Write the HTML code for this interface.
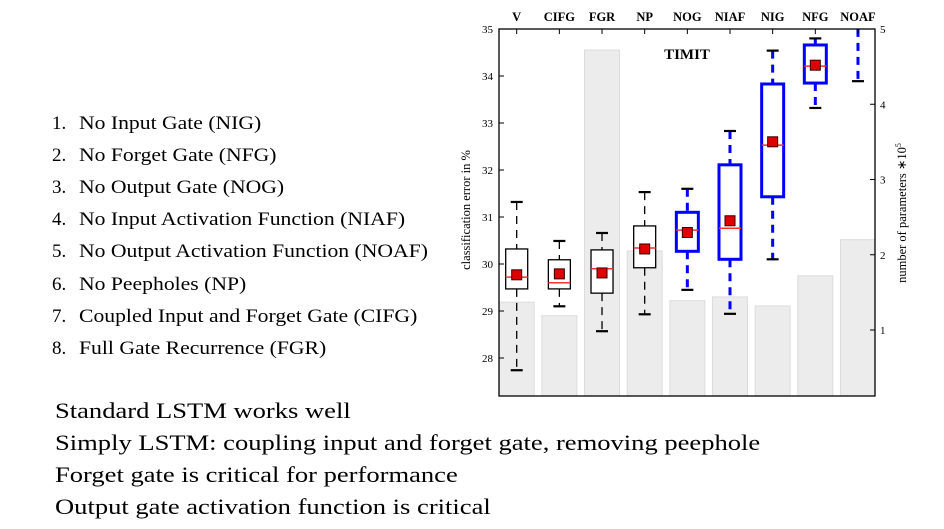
<!DOCTYPE html>
<html><head><meta charset="utf-8"><style>
html,body{margin:0;padding:0;background:#fff;width:944px;height:529px;overflow:hidden;}
.t{position:absolute;font-family:"Liberation Serif",serif;color:#000;white-space:nowrap;transform-origin:0 50%;}
.li{font-size:19px;left:52px;}
.li span{display:inline-block;width:27px;}
.li b{font-weight:normal;display:inline-block;transform:scaleX(1.14);transform-origin:0 50%;}
.bt{font-size:22.5px;left:55px;transform:scaleX(1.18);}
</style></head><body>
<div class="t li" style="top:113px"><span>1.</span><b>No Input Gate (NIG)</b></div>
<div class="t li" style="top:145px"><span>2.</span><b>No Forget Gate (NFG)</b></div>
<div class="t li" style="top:177px"><span>3.</span><b>No Output Gate (NOG)</b></div>
<div class="t li" style="top:209px"><span>4.</span><b>No Input Activation Function (NIAF)</b></div>
<div class="t li" style="top:241px"><span>5.</span><b>No Output Activation Function (NOAF)</b></div>
<div class="t li" style="top:274px"><span>6.</span><b>No Peepholes (NP)</b></div>
<div class="t li" style="top:306px"><span>7.</span><b>Coupled Input and Forget Gate (CIFG)</b></div>
<div class="t li" style="top:338px"><span>8.</span><b>Full Gate Recurrence (FGR)</b></div>
<div class="t bt" style="top:398px">Standard LSTM works well</div>
<div class="t bt" style="top:430px">Simply LSTM: coupling input and forget gate, removing peephole</div>
<div class="t bt" style="top:462px">Forget gate is critical for performance</div>
<div class="t bt" style="top:494px">Output gate activation function is critical</div>
<svg id="chart" width="944" height="529" style="position:absolute;left:0;top:0" xmlns="http://www.w3.org/2000/svg"></svg>
<script>
const categories=["V","CIFG","FGR","NP","NOG","NIAF","NIG","NFG","NOAF"];
const params=[1.37,1.19,4.72,2.05,1.39,1.44,1.32,1.72,2.2];
const whiskerHigh=[31.32,30.49,30.66,31.53,31.6,32.83,34.54,34.8,36.5];
const q3=[30.32,30.09,30.3,30.81,31.1,32.11,33.83,34.66,36];
const medians=[29.72,29.6,29.9,30.34,30.72,30.76,32.53,34.21,35.6];
const q1=[29.47,29.47,29.38,29.92,30.27,30.1,31.43,33.85,35.3];
const whiskerLow=[27.74,29.1,28.57,28.93,29.45,28.94,30.1,33.32,33.89];
const means=[29.77,29.79,29.81,30.32,30.67,30.92,32.6,34.23,35.8];
const highlighted=[false,false,false,false,true,true,true,true,true];
const leftTicks=[28,29,30,31,32,33,34,35];
const rightTicks=[1,2,3,4,5];
const NS="http://www.w3.org/2000/svg";
const svg=document.getElementById('chart');
const L=499,R=875,T=29,B=396;
const yE=v=>29+(35-v)*47;
const yP=v=>405.25-v*75.25;
const xC=i=>516.7+i*42.66;
function mk(tag,attrs,parent){const e=document.createElementNS(NS,tag);for(const k in attrs)e.setAttribute(k,attrs[k]);(parent||svg).appendChild(e);return e;}
const defs=mk('defs',{});const cp=mk('clipPath',{id:'pc'},defs);mk('rect',{x:L,y:T,width:R-L,height:B-T},cp);
const g=mk('g',{'clip-path':'url(#pc)'});
params.forEach((p,i)=>{const r=mk('rect',{x:xC(i)-17.5,y:yP(p),width:35,height:B-yP(p)+5,fill:'#ececec',stroke:'#dcdcdc','stroke-width':1},g);

});
categories.forEach((c,i)=>{const col=highlighted[i]?'#0000ff':'#000';const sw=highlighted[i]?3:1.3;const x=xC(i);
const bg=mk('g',{},g);


mk('line',{x1:x,x2:x,y1:yE(whiskerHigh[i]),y2:yE(q3[i]),stroke:col,'stroke-width':sw,'stroke-dasharray':'8 6'},bg);
mk('line',{x1:x,x2:x,y1:yE(q1[i]),y2:yE(whiskerLow[i]),stroke:col,'stroke-width':sw,'stroke-dasharray':'8 6'},bg);
mk('line',{x1:x-6,x2:x+6,y1:yE(whiskerHigh[i]),y2:yE(whiskerHigh[i]),stroke:'#000','stroke-width':2.2},bg);
mk('line',{x1:x-6,x2:x+6,y1:yE(whiskerLow[i]),y2:yE(whiskerLow[i]),stroke:'#000','stroke-width':2.2},bg);
mk('rect',{x:x-11,y:yE(q3[i]),width:22,height:yE(q1[i])-yE(q3[i]),fill:'#fff',stroke:col,'stroke-width':sw},bg);
mk('line',{x1:x-11,x2:x+11,y1:yE(medians[i]),y2:yE(medians[i]),stroke:'#ff3030','stroke-width':1.5},bg);
mk('rect',{x:x-5,y:yE(means[i])-5,width:10,height:10,fill:'#e00000',stroke:'#300','stroke-width':1},bg);
});
mk('rect',{x:L,y:T,width:R-L,height:B-T,fill:'none',stroke:'#000','stroke-width':1.3});
leftTicks.forEach(v=>{mk('line',{x1:L,x2:L+5,y1:yE(v),y2:yE(v),stroke:'#000'});
const t=mk('text',{x:L-6,y:yE(v)+4,'text-anchor':'end','font-size':11,'font-family':'Liberation Serif, serif'});t.textContent=v;

});
rightTicks.forEach(v=>{mk('line',{x1:R-5,x2:R,y1:yP(v),y2:yP(v),stroke:'#000'});
const t=mk('text',{x:R+5,y:yP(v)+4,'font-size':11,'font-family':'Liberation Serif, serif'});t.textContent=v;

});
categories.forEach((c,i)=>{mk('line',{x1:xC(i),x2:xC(i),y1:T,y2:T+5,stroke:'#000'});
const t=mk('text',{x:xC(i),y:21,'text-anchor':'middle','font-size':12.5,'font-weight':'bold','font-family':'Liberation Serif, serif'});t.textContent=c;

});
const tt=mk('text',{x:687,y:59,'text-anchor':'middle','font-size':15,'font-weight':'bold','font-family':'Liberation Serif, serif'});tt.textContent='TIMIT';


const yl=mk('text',{transform:'translate(470,210) rotate(-90)','text-anchor':'middle','font-size':12.5,'font-family':'Liberation Serif, serif'});yl.textContent='classification error in %';


const y2=mk('text',{transform:'translate(906,213) rotate(-90)','text-anchor':'middle','font-size':12.5,'font-family':'Liberation Serif, serif'});y2.innerHTML='number of parameters ∗10<tspan dy="-5" font-size="8">5</tspan>';


</script>
</body></html>
